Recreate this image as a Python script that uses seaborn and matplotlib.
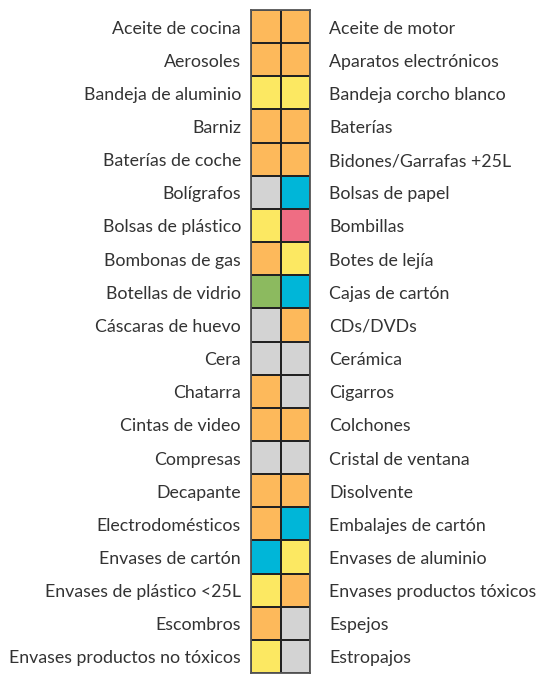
import numpy as np
import pandas as pd
import matplotlib
matplotlib.use("Agg")
import matplotlib.pyplot as plt
import seaborn as sns
from matplotlib.colors import ListedColormap
from matplotlib.transforms import offset_copy

# residue names, left column and right column
left_labels = [
    "Aceite de cocina", "Aerosoles", "Bandeja de aluminio", "Barniz",
    "Baterías de coche", "Bolígrafos", "Bolsas de plástico", "Bombonas de gas",
    "Botellas de vidrio", "Cáscaras de huevo", "Cera", "Chatarra",
    "Cintas de video", "Compresas", "Decapante", "Electrodomésticos",
    "Envases de cartón", "Envases de plástico <25L", "Escombros",
    "Envases productos no tóxicos",
]
right_labels = [
    "Aceite de motor", "Aparatos electrónicos", "Bandeja corcho blanco", "Baterías",
    "Bidones/Garrafas +25L", "Bolsas de papel", "Bombillas", "Botes de lejía",
    "Cajas de cartón", "CDs/DVDs", "Cerámica", "Cigarros",
    "Colchones", "Cristal de ventana", "Disolvente", "Embalajes de cartón",
    "Envases de aluminio", "Envases productos tóxicos", "Espejos", "Estropajos",
]

# container for each residue
left_bin = [
    "punto limpio", "punto limpio", "amarillo", "punto limpio",
    "punto limpio", "resto", "amarillo", "punto limpio",
    "vidrio", "resto", "resto", "punto limpio",
    "punto limpio", "resto", "punto limpio", "punto limpio",
    "azul", "amarillo", "punto limpio", "amarillo",
]
right_bin = [
    "punto limpio", "punto limpio", "amarillo", "punto limpio",
    "punto limpio", "azul", "bombillas", "amarillo",
    "azul", "punto limpio", "resto", "resto",
    "punto limpio", "resto", "punto limpio", "azul",
    "amarillo", "punto limpio", "resto", "resto",
]

bins = ["punto limpio", "amarillo", "resto", "azul", "bombillas", "vidrio"]
bin_colors = ["#FDB95B", "#FCE862", "#D3D3D3", "#00B6D8", "#EF6D83", "#8CBA5F"]

codes = pd.DataFrame({
    "izq": [bins.index(b) for b in left_bin],
    "der": [bins.index(b) for b in right_bin],
})

fig = plt.figure(figsize=(5.44, 6.75), dpi=100)
ax = fig.add_axes([251 / 544, 2 / 675, 59 / 544, 663 / 675])

sns.heatmap(codes, ax=ax, cmap=ListedColormap(bin_colors), vmin=-0.5,
            vmax=len(bins) - 0.5, cbar=False, linewidths=1.2, linecolor="#222222",
            xticklabels=False, yticklabels=False)

for s in ax.spines.values():
    s.set_visible(True)
    s.set_color("#555555")
    s.set_linewidth(1.3)

text_kw = dict(fontsize=12.8, color="#333333", family=["Lato", "DejaVu Sans"], va="center")
left_tr = offset_copy(ax.transData, fig=fig, x=-10, y=-2, units="dots")
right_tr = offset_copy(ax.transData, fig=fig, x=19, y=-2, units="dots")
for i, (l, r) in enumerate(zip(left_labels, right_labels)):
    ax.text(0, i + 0.5, l, ha="right", transform=left_tr, **text_kw)
    ax.text(2, i + 0.5, r, ha="left", transform=right_tr, **text_kw)

fig.savefig("out.png", dpi=100)
